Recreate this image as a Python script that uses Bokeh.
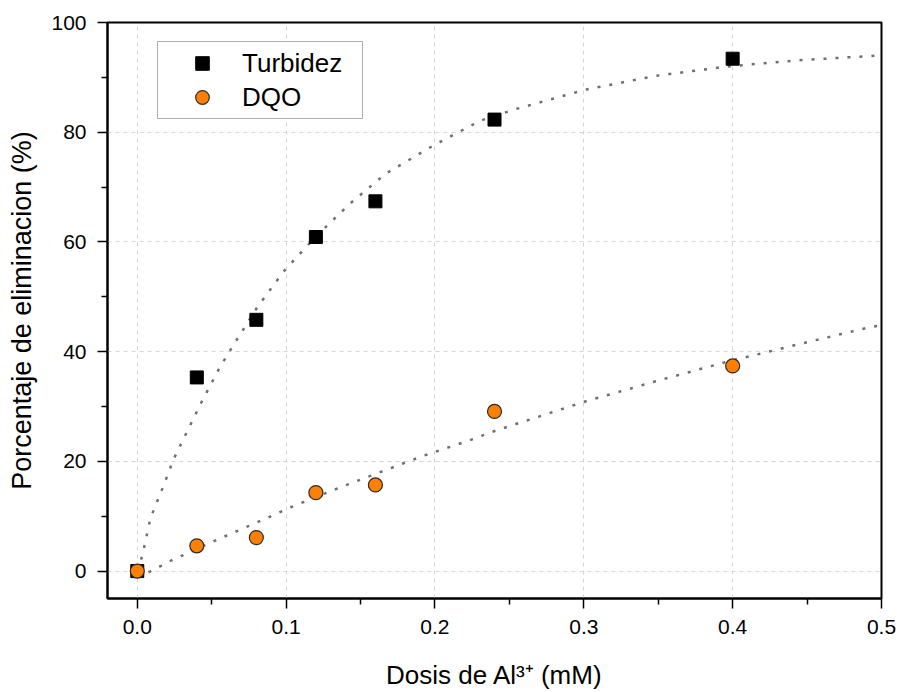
from bokeh.plotting import figure
from bokeh.models import (Legend, LegendItem, FixedTicker, NumeralTickFormatter,
                          ColumnDataSource)
from bokeh.embed import file_html
from bokeh.resources import INLINE

# ---- data ----
dosis = [0.0, 0.04, 0.08, 0.12, 0.16, 0.24, 0.40]
turbidez = [0.0, 35.3, 45.8, 60.9, 67.4, 82.3, 93.4]
dqo = [0.0, 4.6, 6.1, 14.3, 15.7, 29.1, 37.4]

# fitted curves
fit_turb_x = [0.0, 0.0035, 0.0088, 0.0177, 0.0244, 0.0356, 0.0435, 0.0558, 0.066,
              0.0804, 0.0983, 0.1196, 0.143, 0.1667, 0.199, 0.2305, 0.254, 0.3018,
              0.349, 0.397, 0.444, 0.4926, 0.5]
fit_turb_y = [0.0, 2.9, 9.6, 15.6, 20.4, 26.6, 31.0, 37.3, 41.8, 48.0, 54.6, 60.9,
              67.0, 72.4, 77.6, 82.1, 84.2, 87.8, 90.3, 92.0, 93.1, 93.9, 94.0]

fit_dqo_x = [0.0, 0.0085, 0.0163, 0.024, 0.0325, 0.048, 0.056, 0.0722, 0.0874,
             0.1038, 0.12, 0.1367, 0.16, 0.1755, 0.191, 0.2075, 0.223, 0.2387,
             0.2544, 0.302, 0.3497, 0.398, 0.4213, 0.445, 0.493, 0.5]
fit_dqo_y = [-1.0, -0.1, 1.0, 2.1, 3.1, 5.0, 6.0, 7.9, 9.7, 11.7, 13.5, 15.3, 17.7,
             19.3, 20.9, 22.4, 23.8, 25.4, 26.8, 31.0, 34.7, 38.3, 39.8, 41.4, 44.5, 44.8]

x_ticks = [0.0, 0.1, 0.2, 0.3, 0.4, 0.5]
x_minor = [0.05, 0.15, 0.25, 0.35, 0.45]
y_ticks = [0, 20, 40, 60, 80, 100]
y_minor = [10, 30, 50, 70, 90]

x_title = "Dosis de Al³⁺ (mM)"
y_title = "Porcentaje de eliminacion (%)"

FONT = "Liberation Sans"

p = figure(width=900, height=692, x_range=(-0.02, 0.5), y_range=(-5, 100),
           output_backend="svg", toolbar_location=None,
           min_border_left=107, min_border_right=19, min_border_top=22,
           min_border_bottom=94)
p.background_fill_color = "white"
p.border_fill_color = "white"
p.outline_line_color = "black"
p.outline_line_width = 2

# axes
for ax in (p.xaxis[0], p.yaxis[0]):
    ax.axis_line_width = 2
    ax.axis_line_color = "black"
    ax.major_tick_line_width = 1.5
    ax.minor_tick_line_width = 1.5
    ax.major_tick_out = 10
    ax.major_tick_in = 0
    ax.minor_tick_out = 6
    ax.minor_tick_in = 0
    ax.major_label_text_font = FONT
    ax.major_label_text_font_size = "21px"
    ax.major_label_text_color = "black"
    ax.axis_label_text_font = FONT
    ax.axis_label_text_font_style = "normal"
    ax.axis_label_text_color = "black"

p.xaxis.ticker = FixedTicker(ticks=x_ticks, minor_ticks=x_minor)
p.yaxis.ticker = FixedTicker(ticks=y_ticks, minor_ticks=y_minor)
p.xaxis.formatter = NumeralTickFormatter(format="0.0")
p.yaxis.formatter = NumeralTickFormatter(format="0")
p.xaxis.major_label_standoff = 11
p.yaxis.major_label_standoff = 11
p.xaxis.axis_label = x_title
p.xaxis.axis_label_text_font_size = "26px"
p.xaxis.axis_label_standoff = 23
p.yaxis.axis_label = y_title
p.yaxis.axis_label_text_font_size = "27px"
p.yaxis.axis_label_standoff = 11

# grid
p.xgrid.ticker = FixedTicker(ticks=x_ticks)
p.ygrid.ticker = FixedTicker(ticks=y_ticks)
for g in (p.xgrid[0], p.ygrid[0]):
    g.grid_line_color = "#d4d4d4"
    g.grid_line_dash = "4 4"
    g.grid_line_width = 1

# fit curves
p.line(fit_turb_x, fit_turb_y, line_color="#707070", line_width=2.5, line_dash="3 9")
p.line(fit_dqo_x, fit_dqo_y, line_color="#707070", line_width=2.5, line_dash="3 9")

src = ColumnDataSource(dict(x=dosis, t=turbidez, d=dqo))
r_t = p.scatter("x", "t", source=src, marker="square", size=13,
                fill_color="black", line_color="black", line_width=1)
r_d = p.scatter("x", "d", source=src, marker="circle", size=14,
                fill_color="#FF8000", line_color="#2b2b2b", line_width=1.2)

legend = Legend(items=[LegendItem(label="Turbidez", renderers=[r_t]),
                       LegendItem(label="DQO", renderers=[r_d])],
                location=(50, 479), orientation="vertical")
legend.label_text_font = FONT
legend.label_text_font_size = "26px"
legend.label_text_color = "black"
legend.padding = 4
legend.margin = 0
legend.spacing = 0
legend.glyph_width = 80
legend.glyph_height = 34
legend.label_height = 34
legend.label_width = 116
legend.label_standoff = 0
legend.border_line_color = "#606060"
legend.border_line_width = 1
legend.background_fill_color = "white"
legend.background_fill_alpha = 1
p.add_layout(legend, "center")

open("out.html", "w").write(file_html(p, INLINE))
